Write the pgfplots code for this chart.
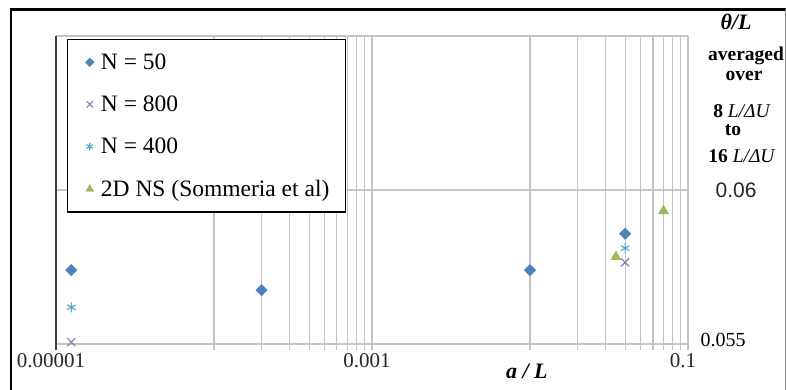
\documentclass[border=0pt]{standalone}
\usepackage{pgfplots}
\pgfplotsset{compat=1.18}
\usepackage{fontspec}
\setmainfont{Liberation Serif}
\newfontfamily\sansnum{Liberation Sans}

\definecolor{seriesblue}{HTML}{4F81BD}
\definecolor{seriespurple}{HTML}{8A78AE}
\definecolor{seriescyan}{HTML}{4BACC6}
\definecolor{seriesgreen}{HTML}{9BBB59}
\definecolor{gridgray}{HTML}{C4C4C4}

\begin{document}
\begin{tikzpicture}
\useasboundingbox (0pt,0pt) rectangle (786pt,390pt);

% outer frame
\draw[black, line width=2.6pt] (11pt,-2pt) -- (11pt,380.5pt) -- (788pt,380.5pt);
\draw[gray, line width=0.8pt] (785pt,380.5pt) -- (785pt,0pt);

\begin{axis}[
  at={(56pt,46pt)}, anchor=south west,
  scale only axis, width=632pt, height=308pt,
  xmode=log, xmin=1e-5, xmax=0.1,
  ymin=0.055, ymax=0.065,
  xtick={1e-5,1e-4,1e-3,1e-2,1e-1},
  xticklabels={0.00001,,0.001,,0.1},
  minor xtick={2e-4,3e-4,4e-4,5e-4,6e-4,7e-4,8e-4,9e-4,0.02,0.03,0.04,0.05,0.06,0.07,0.08,0.09},
  ytick={0.055,0.06,0.065}, yticklabels={},
  scaled y ticks=false,
  grid=both,
  major grid style={gridgray, line width=1.1pt},
  minor grid style={gridgray, line width=1.1pt},
  axis line style={draw=none},
  tick align=outside,
  xtick pos=bottom,
  major tick length=6pt, minor tick length=6pt,
  x tick style={gridgray, line width=1.1pt},
  ytick style={draw=none},
  xticklabel style={font=\fontsize{21}{21}\selectfont, xshift=-5pt, text=black!85},
  clip=false,
  legend cell align=left,
  legend style={at={(axis description cs:0.0174,0.990)}, anchor=north west,
    draw=black, line width=1.3pt, fill=white,
    font=\fontsize{23.5}{26}\selectfont, row sep=21pt,
    inner xsep=14pt, inner ysep=12pt},
  legend image code/.code={%
    \path (1.5pt,0pt) (17.5pt,0pt);
    \draw[mark repeat=2,mark phase=2,#1,every mark/.append style={scale=0.75}]
      plot coordinates {(0pt,0pt)(9pt,0pt)(18pt,0pt)};},
]

\addplot[only marks, mark=square*, mark size=4.1pt,
  mark options={rotate=45, fill=seriesblue, draw=seriesblue, line width=0.3pt}]
  coordinates {(1.25e-5,0.05740) (2e-4,0.05675) (0.01,0.05740) (0.04,0.05858)};
\addlegendentry{N = 50}

\addplot[only marks, mark=x, mark size=5.8pt,
  mark options={draw=seriespurple, line width=1.1pt}]
  coordinates {(1.25e-5,0.05506) (0.04,0.05765)};
\addlegendentry{N = 800}

\addplot[only marks, mark=asterisk, mark size=5pt,
  mark options={draw=seriescyan, line width=1.1pt}]
  coordinates {(1.25e-5,0.05619) (0.04,0.05811)};
\addlegendentry{N = 400}

\addplot[only marks, mark=triangle*, mark size=6pt,
  mark options={fill=seriesgreen, draw=seriesgreen, line width=0.3pt}]
  coordinates {(0.035,0.05783) (0.07,0.05932)};
\addlegendentry{2D NS (Sommeria et al)}

% dark left axis line, running down to the tick row
\draw[black!75, line width=1.8pt] (rel axis cs:0,1) -- ([yshift=-6pt]rel axis cs:0,0);

% axis title under the x axis
\node[font=\fontsize{22}{22}\selectfont\bfseries\itshape]
  at (axis description cs:0.745,-0.088) {a / L};
\end{axis}

% right-hand annotations
\node[font=\fontsize{22}{22}\selectfont\bfseries\itshape] at (736pt,368pt) {θ/L};
\node[font=\fontsize{19.5}{20}\selectfont\bfseries] at (746pt,334pt) {averaged};
\node[font=\fontsize{19.5}{20}\selectfont\bfseries] at (744pt,314pt) {over};
\node[font=\fontsize{19.5}{20}\selectfont] at (742pt,279pt) {\textbf{8} \textit{L/ΔU}};
\node[font=\fontsize{19.5}{20}\selectfont\bfseries] at (733pt,260pt) {to};
\node[font=\fontsize{19.5}{20}\selectfont] at (742pt,234pt) {\textbf{16} \textit{L/ΔU}};
\node[font=\sansnum\fontsize{21}{21}\selectfont, text=black!85] at (736pt,200pt) {0.06};
\node[font=\fontsize{20}{20}\selectfont] at (723pt,50pt) {0.055};
\end{tikzpicture}
\end{document}
